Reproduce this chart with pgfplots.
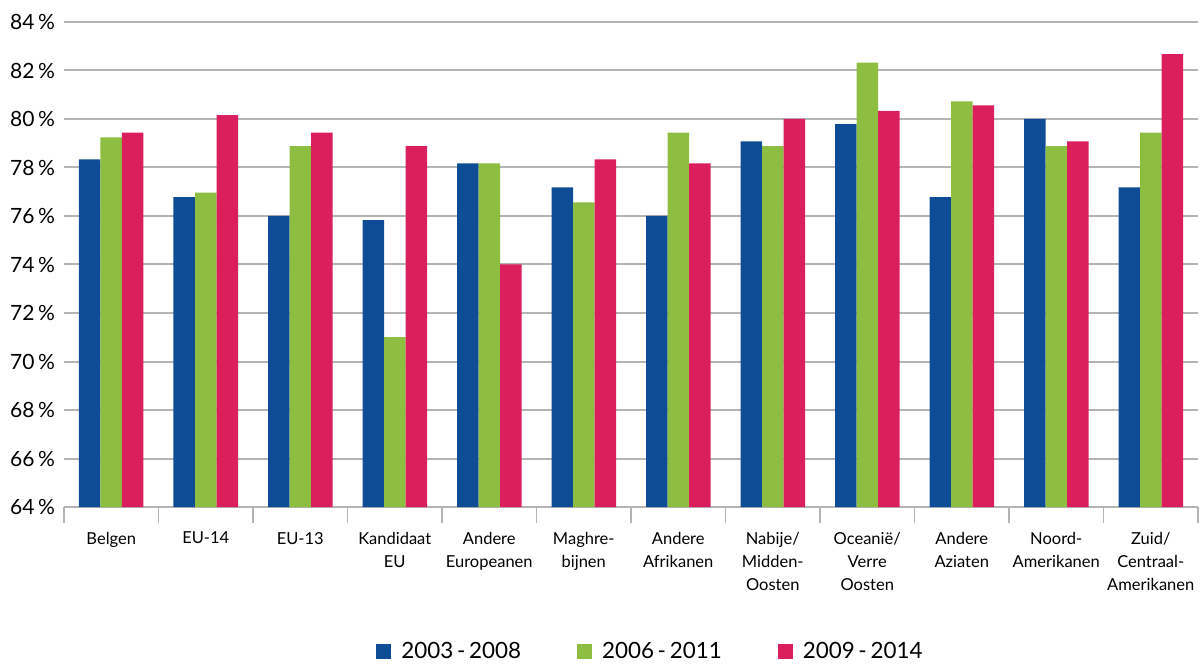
\documentclass[border=0pt]{standalone}
\usepackage{pgfplots}
\pgfplotsset{compat=1.18}
\usepackage{fontspec}
\setmainfont{Lato}
\definecolor{cblue}{HTML}{0E4C96}
\definecolor{cgreen}{HTML}{8DBE42}
\definecolor{cred}{HTML}{DA1F5C}
\definecolor{cgrid}{HTML}{B4B4B4}
\begin{document}
\begin{tikzpicture}
\begin{axis}[name=ax, scale only axis, width=567pt, height=242.5pt,
  ybar=0pt, bar width=10.75pt,
  xmin=-0.5, xmax=11.5, ymin=64, ymax=84,
  ytick={64,66,...,84},
  xtick={0,...,11},
  xticklabels={Belgen, EU-14, EU-13, Kandidaat\\EU, Andere\\Europeanen, Maghre-\\bijnen, Andere\\Afrikanen, Nabije/\\Midden-\\Oosten, Oceanië/\\Verre\\Oosten, Andere\\Aziaten, Noord-\\Amerikanen, Zuid/\\Centraal-\\Amerikanen},
  minor xtick={-0.5,0.5,...,11.5},
  major tick length=0pt, minor tick length=8pt,
  tick align=outside, xtick pos=bottom, ytick pos=left,
  axis line style={draw=none},
  minor tick style={cgrid, line width=0.75pt},
  ymajorgrids, grid style={cgrid, line width=1pt},
  /pgf/number format/assume math mode=true,
  yticklabel={\pgfmathprintnumber{\tick}\,\%},
  yticklabel style={font=\fontsize{10.5}{12}\selectfont, xshift=-1pt},
  xticklabel style={font=\fontsize{8.25}{11.5}\selectfont, align=center, yshift=-9pt},
  legend style={at={(0.518,-0.298)}, anchor=center, draw=none, legend columns=3,
    font=\fontsize{11.2}{13}\selectfont,
    /tikz/every odd column/.append style={column sep=3pt},
    /tikz/every even column/.append style={column sep=26pt}},
  legend image code/.code={\fill[#1] (0pt,-3.75pt) rectangle (7.5pt,3.75pt);},
]
\addplot[fill=cblue, draw=none] coordinates {(0,78.33) (1,76.78) (2,76.0) (3,75.83) (4,78.17) (5,77.18) (6,76.0) (7,79.08) (8,79.79) (9,76.78) (10,80.0) (11,77.18)};
\addplot[fill=cgreen, draw=none] coordinates {(0,79.24) (1,76.96) (2,78.88) (3,71.0) (4,78.17) (5,76.56) (6,79.44) (7,78.88) (8,82.32) (9,80.73) (10,78.88) (11,79.44)};
\addplot[fill=cred, draw=none] coordinates {(0,79.44) (1,80.16) (2,79.44) (3,78.88) (4,74.0) (5,78.33) (6,78.17) (7,80.0) (8,80.34) (9,80.56) (10,79.08) (11,82.68)};
\legend{2003\,-\,2008, 2006\,-\,2011, 2009\,-\,2014}
\end{axis}
\pgfresetboundingbox
\path[use as bounding box] ([shift={(-32pt,-78.5pt)}]ax.south west) rectangle ++(600pt,332pt);
\end{tikzpicture}
\end{document}
